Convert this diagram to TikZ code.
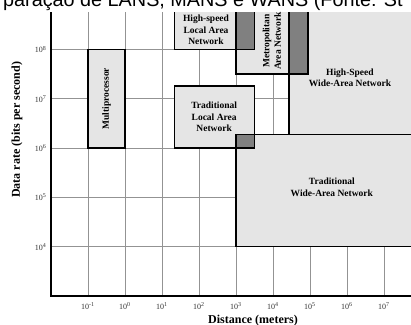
\documentclass[tikz,border=0pt]{standalone}
\usepackage{fontspec}
\setmainfont{Liberation Serif}
\newfontfamily\titlefont{Liberation Sans}
\usetikzlibrary{positioning}

\begin{document}
\begin{tikzpicture}[
  x=37pt, y=49.3pt,
  grid/.style = {draw=gray!85, line width=0.6pt},
  axis/.style = {line width=1.5pt},
  netbox/.style = {draw, line width=1.3pt, fill=gray!20},
  overlap/.style = {draw, line width=1.3pt, fill=gray},
  netlabel/.style = {font=\fontsize{9.5}{11.5}\selectfont\bfseries, align=center, inner sep=0pt},
  tick/.style = {font=\footnotesize, text=black!80, inner sep=0pt},
  axlabel/.style = {font=\fontsize{12}{14}\selectfont\bfseries, inner sep=0pt}
  ]

% page frame
\useasboundingbox (-3.378,2.412) rectangle (7.730,9.004);
\clip (-3.378,2.412) rectangle (7.730,9.004);

% Title (cut off at the top)
\node[anchor=base west, inner sep=0pt, font=\titlefont\fontsize{19.8}{24}\selectfont] (title) at (-3.297,8.872) {paração de LANS, MANS e WANS (Fonte: St};

% Grid
\foreach \d in {-1,...,7}
  \draw[grid] (\d,3) -- (\d,8.76);
\foreach \e in {4,...,8}
  \draw[grid] (-2,\e) -- (7.8,\e);

% Network regions
\begin{scope}
\clip (-2.2,2.9) rectangle (7.8,8.76);
\draw[netbox] (-1,6) rectangle (0,8);
\draw[netbox] (1.33,8) rectangle (3.5,9.2);
\draw[netbox] (3,7.5) rectangle (4.95,9.2);
\draw[netbox] (4.43,6.27) rectangle (8,9.2);
\draw[netbox] (1.33,6) rectangle (3.5,7.26);
\draw[netbox] (3,4) rectangle (8,6.27);
% overlaps
\draw[overlap] (3,8) rectangle (3.5,9.2);
\draw[overlap] (4.43,7.5) rectangle (4.95,9.2);
\draw[overlap] (3,6) rectangle (3.5,6.27);
\end{scope}

% Axes
\draw[axis] (-2,8.76) -- (-2,3) -- (7.8,3);

% Region labels
\node[netlabel, rotate=90] (multi) at (-0.5,7.0) {Multiprocessor};
\node[netlabel] (hslan) at (2.19,8.4) {High-speed\\Local Area\\Network};
\node[netlabel, rotate=90] (man) at (3.97,8.17) {Metropolitan\\Area Network};
\node[netlabel] (hswan) at (6.08,7.43) {High-Speed\\Wide-Area Network};
\node[netlabel] (tlan) at (2.41,6.63) {Traditional\\Local Area\\Network};
\node[netlabel] (twan) at (5.59,5.21) {Traditional\\Wide-Area Network};

% Tick labels
\foreach \d in {-1,...,7}
  \node[tick] (x\d) at (\d,2.797) {10\textsuperscript{\d}};
\foreach \e in {4,...,8}
  \node[tick, anchor=east] (y\e) at (-2.12,\e) {10\textsuperscript{\e}};

% Axis labels
\node[axlabel] (xlabel) at (3.46,2.5) {Distance (meters)};
\node[axlabel, rotate=90] (ylabel) at (-2.92,6.37) {Data rate (bits per second)};
\end{tikzpicture}
\end{document}
